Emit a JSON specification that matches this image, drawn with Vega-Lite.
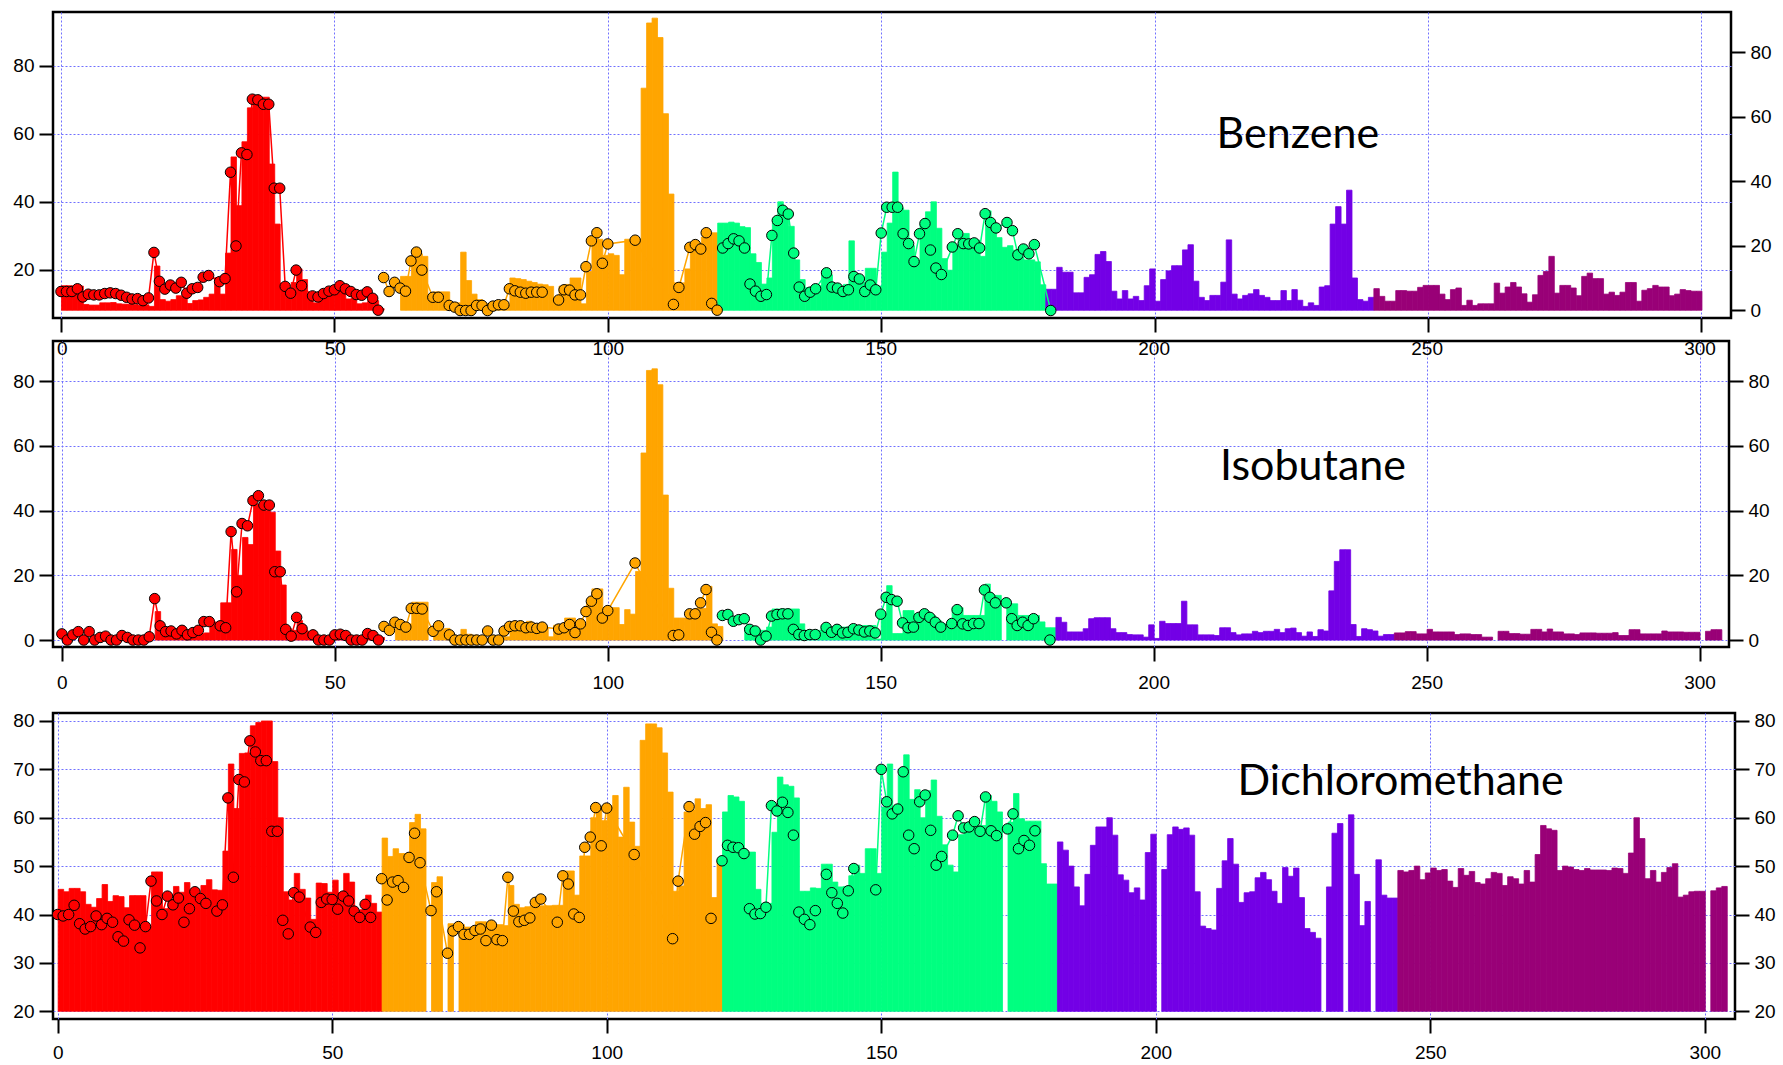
{
"$schema": "https://vega.github.io/schema/vega-lite/v6.json",
"padding": {"top": 10, "left": 11, "right": 0, "bottom": 0},
"background": "white",
"spacing": 2,
"config": {
 "font": "Liberation Sans",
 "view": {"stroke": "black", "strokeWidth": 2.5, "fill": "white"},
 "axis": {"labelFont": "Liberation Sans", "labelFontSize": 19, "labelColor": "black", "tickColor": "black", "tickWidth": 2, "tickSize": 14, "domain": false, "gridColor": "#7070ff", "gridDash": [2, 2], "gridWidth": 1, "gridOpacity": 1, "labelFlush": false, "labelOverlap": false, "labelPadding": 5, "title": null}
},
"datasets": {
"bb": [
{"x":0,"v":7.6,"c":"a"},{"x":1,"v":7.6,"c":"a"},{"x":2,"v":7.4,"c":"a"},{"x":3,"v":7.5,"c":"a"},{"x":4,"v":1.8,"c":"a"},{"x":5,"v":1.6,"c":"a"},{"x":6,"v":1.6,"c":"a"},{"x":7,"v":2.3,"c":"a"},{"x":8,"v":2.3,"c":"a"},{"x":9,"v":2.4,"c":"a"},{"x":10,"v":2,"c":"a"},{"x":11,"v":1.9,"c":"a"},{"x":12,"v":1.9,"c":"a"},{"x":13,"v":1.8,"c":"a"},{"x":14,"v":1.6,"c":"a"},{"x":15,"v":1.7,"c":"a"},{"x":16,"v":1.2,"c":"a"},{"x":17,"v":13.7,"c":"a"},{"x":18,"v":3.3,"c":"a"},{"x":19,"v":2.8,"c":"a"},{"x":20,"v":3.3,"c":"a"},{"x":21,"v":4.5,"c":"a"},{"x":22,"v":4.2,"c":"a"},{"x":23,"v":2.1,"c":"a"},{"x":24,"v":3,"c":"a"},{"x":25,"v":3.2,"c":"a"},{"x":26,"v":4,"c":"a"},{"x":27,"v":5,"c":"a"},{"x":28,"v":10.1,"c":"a"},{"x":29,"v":5,"c":"a"},{"x":30,"v":17.7,"c":"a"},{"x":31,"v":47.5,"c":"a"},{"x":32,"v":32.4,"c":"a"},{"x":33,"v":52.2,"c":"a"},{"x":34,"v":62.7,"c":"a"},{"x":35,"v":66,"c":"a"},{"x":36,"v":66,"c":"a"},{"x":37,"v":66,"c":"a"},{"x":38,"v":45.3,"c":"a"},{"x":39,"v":26.7,"c":"a"},{"x":40,"v":8.4,"c":"a"},{"x":41,"v":5.3,"c":"a"},{"x":42,"v":8.6,"c":"a"},{"x":43,"v":12.8,"c":"a"},{"x":44,"v":9.5,"c":"a"},{"x":45,"v":5.1,"c":"a"},{"x":46,"v":2.3,"c":"a"},{"x":47,"v":4.3,"c":"a"},{"x":48,"v":4.5,"c":"a"},{"x":49,"v":5.2,"c":"a"},{"x":50,"v":6.4,"c":"a"},{"x":51,"v":7.4,"c":"a"},{"x":52,"v":3.5,"c":"a"},{"x":53,"v":3.8,"c":"a"},{"x":54,"v":2,"c":"a"},{"x":55,"v":2.3,"c":"a"},{"x":56,"v":3,"c":"a"},{"x":57,"v":3,"c":"a"},{"x":58,"v":0.5,"c":"a"},
{"x":62,"v":10.5,"c":"b"},{"x":63,"v":10.5,"c":"b"},{"x":64,"v":17,"c":"b"},{"x":65,"v":17.5,"c":"b"},{"x":66,"v":16.7,"c":"b"},{"x":67,"v":3,"c":"b"},{"x":68,"v":5.7,"c":"b"},{"x":69,"v":5.7,"c":"b"},{"x":70,"v":5.7,"c":"b"},{"x":71,"v":2.3,"c":"b"},{"x":72,"v":2.3,"c":"b"},{"x":73,"v":18,"c":"b"},{"x":74,"v":9.2,"c":"b"},{"x":75,"v":5,"c":"b"},{"x":76,"v":3.3,"c":"b"},{"x":77,"v":2,"c":"b"},{"x":78,"v":1,"c":"b"},{"x":79,"v":1.2,"c":"b"},{"x":80,"v":1.4,"c":"b"},{"x":81,"v":1.5,"c":"b"},{"x":82,"v":10,"c":"b"},{"x":83,"v":9.8,"c":"b"},{"x":84,"v":9.5,"c":"b"},{"x":85,"v":9,"c":"b"},{"x":86,"v":8.6,"c":"b"},{"x":87,"v":8.1,"c":"b"},{"x":88,"v":7.9,"c":"b"},{"x":89,"v":7.4,"c":"b"},{"x":90,"v":3.8,"c":"b"},{"x":91,"v":7.5,"c":"b"},{"x":92,"v":8,"c":"b"},{"x":93,"v":10,"c":"b"},{"x":94,"v":10,"c":"b"},{"x":95,"v":2,"c":"b"},{"x":96,"v":12,"c":"b"},{"x":97,"v":21.5,"c":"b"},{"x":98,"v":22,"c":"b"},{"x":99,"v":17,"c":"b"},{"x":100,"v":17.5,"c":"b"},{"x":101,"v":17,"c":"b"},{"x":102,"v":11,"c":"b"},{"x":103,"v":22,"c":"b"},{"x":104,"v":22,"c":"b"},{"x":105,"v":22,"c":"b"},{"x":106,"v":68.8,"c":"b"},{"x":107,"v":89,"c":"b"},{"x":108,"v":90.5,"c":"b"},{"x":109,"v":84.5,"c":"b"},{"x":110,"v":60.9,"c":"b"},{"x":111,"v":36,"c":"b"},{"x":112,"v":8.5,"c":"b"},{"x":113,"v":8.5,"c":"b"},{"x":114,"v":12.8,"c":"b"},{"x":115,"v":19,"c":"b"},{"x":116,"v":19.5,"c":"b"},{"x":117,"v":22.7,"c":"b"},{"x":118,"v":24,"c":"b"},{"x":119,"v":24,"c":"b"},
{"x":120,"v":27,"c":"c"},{"x":121,"v":27,"c":"c"},{"x":122,"v":27.3,"c":"c"},{"x":123,"v":27,"c":"c"},{"x":124,"v":25.9,"c":"c"},{"x":125,"v":25.6,"c":"c"},{"x":126,"v":17.5,"c":"c"},{"x":127,"v":14.8,"c":"c"},{"x":128,"v":8.1,"c":"c"},{"x":129,"v":10,"c":"c"},{"x":130,"v":28.5,"c":"c"},{"x":131,"v":33.6,"c":"c"},{"x":132,"v":29.5,"c":"c"},{"x":133,"v":26,"c":"c"},{"x":134,"v":15.6,"c":"c"},{"x":135,"v":9.5,"c":"c"},{"x":136,"v":7,"c":"c"},{"x":137,"v":7,"c":"c"},{"x":138,"v":7.6,"c":"c"},{"x":139,"v":11,"c":"c"},{"x":140,"v":11,"c":"c"},{"x":141,"v":7.5,"c":"c"},{"x":142,"v":7,"c":"c"},{"x":143,"v":8,"c":"c"},{"x":144,"v":21.5,"c":"c"},{"x":145,"v":11,"c":"c"},{"x":146,"v":8.6,"c":"c"},{"x":147,"v":13,"c":"c"},{"x":148,"v":13,"c":"c"},{"x":149,"v":7.5,"c":"c"},{"x":150,"v":18,"c":"c"},{"x":151,"v":27,"c":"c"},{"x":152,"v":42.8,"c":"c"},{"x":153,"v":31.7,"c":"c"},{"x":154,"v":31,"c":"c"},{"x":155,"v":20,"c":"c"},{"x":156,"v":15.4,"c":"c"},{"x":157,"v":26.6,"c":"c"},{"x":158,"v":30.5,"c":"c"},{"x":159,"v":33.6,"c":"c"},{"x":160,"v":25.4,"c":"c"},{"x":161,"v":16,"c":"c"},{"x":162,"v":12.4,"c":"c"},{"x":163,"v":20,"c":"c"},{"x":164,"v":23.2,"c":"c"},{"x":165,"v":23.8,"c":"c"},{"x":166,"v":21.7,"c":"c"},{"x":167,"v":21.7,"c":"c"},{"x":168,"v":16.7,"c":"c"},{"x":169,"v":30.8,"c":"c"},{"x":170,"v":26.6,"c":"c"},{"x":171,"v":22.5,"c":"c"},{"x":172,"v":19.5,"c":"c"},{"x":173,"v":20,"c":"c"},{"x":174,"v":18.6,"c":"c"},{"x":175,"v":16.5,"c":"c"},{"x":176,"v":15.6,"c":"c"},{"x":177,"v":15.6,"c":"c"},{"x":178,"v":15,"c":"c"},{"x":179,"v":7.9,"c":"c"},
{"x":180,"v":6.5,"c":"d"},{"x":181,"v":6.5,"c":"d"},{"x":182,"v":13.3,"c":"d"},{"x":183,"v":11.8,"c":"d"},{"x":184,"v":11.8,"c":"d"},{"x":185,"v":5.4,"c":"d"},{"x":186,"v":5.4,"c":"d"},{"x":187,"v":10.2,"c":"d"},{"x":188,"v":11,"c":"d"},{"x":189,"v":17.3,"c":"d"},{"x":190,"v":18.2,"c":"d"},{"x":191,"v":15.1,"c":"d"},{"x":192,"v":5.9,"c":"d"},{"x":193,"v":3.5,"c":"d"},{"x":194,"v":6.1,"c":"d"},{"x":195,"v":3.5,"c":"d"},{"x":196,"v":4.3,"c":"d"},{"x":197,"v":3,"c":"d"},{"x":198,"v":7.6,"c":"d"},{"x":199,"v":12.8,"c":"d"},{"x":200,"v":2.8,"c":"d"},{"x":201,"v":9.5,"c":"d"},{"x":202,"v":12.2,"c":"d"},{"x":203,"v":13.8,"c":"d"},{"x":204,"v":13.8,"c":"d"},{"x":205,"v":18.7,"c":"d"},{"x":206,"v":20.3,"c":"d"},{"x":207,"v":9,"c":"d"},{"x":208,"v":4,"c":"d"},{"x":209,"v":3,"c":"d"},{"x":210,"v":4.6,"c":"d"},{"x":211,"v":4.6,"c":"d"},{"x":212,"v":8.7,"c":"d"},{"x":213,"v":21.8,"c":"d"},{"x":214,"v":5,"c":"d"},{"x":215,"v":3.5,"c":"d"},{"x":216,"v":4.6,"c":"d"},{"x":217,"v":5.1,"c":"d"},{"x":218,"v":6.4,"c":"d"},{"x":219,"v":4.6,"c":"d"},{"x":220,"v":4,"c":"d"},{"x":221,"v":3,"c":"d"},{"x":222,"v":3,"c":"d"},{"x":223,"v":6.1,"c":"d"},{"x":224,"v":3,"c":"d"},{"x":225,"v":6.4,"c":"d"},{"x":226,"v":3.1,"c":"d"},{"x":227,"v":1.2,"c":"d"},{"x":228,"v":2.3,"c":"d"},{"x":229,"v":1.5,"c":"d"},{"x":230,"v":7.2,"c":"d"},{"x":231,"v":7.6,"c":"d"},{"x":232,"v":26.7,"c":"d"},{"x":233,"v":32.1,"c":"d"},{"x":234,"v":26.7,"c":"d"},{"x":235,"v":37.2,"c":"d"},{"x":236,"v":10,"c":"d"},{"x":237,"v":3.3,"c":"d"},{"x":238,"v":2.8,"c":"d"},{"x":239,"v":4,"c":"d"},
{"x":240,"v":6.7,"c":"e"},{"x":241,"v":4.3,"c":"e"},{"x":242,"v":2.8,"c":"e"},{"x":243,"v":2.8,"c":"e"},{"x":244,"v":6.1,"c":"e"},{"x":245,"v":6.1,"c":"e"},{"x":246,"v":5.9,"c":"e"},{"x":247,"v":5.9,"c":"e"},{"x":248,"v":7.1,"c":"e"},{"x":249,"v":7.7,"c":"e"},{"x":250,"v":7.7,"c":"e"},{"x":251,"v":7.7,"c":"e"},{"x":252,"v":5,"c":"e"},{"x":253,"v":3.3,"c":"e"},{"x":254,"v":6.4,"c":"e"},{"x":255,"v":6.9,"c":"e"},{"x":256,"v":1.5,"c":"e"},{"x":257,"v":3.1,"c":"e"},{"x":258,"v":1.5,"c":"e"},{"x":259,"v":2,"c":"e"},{"x":260,"v":2,"c":"e"},{"x":261,"v":2,"c":"e"},{"x":262,"v":8.4,"c":"e"},{"x":263,"v":5.3,"c":"e"},{"x":264,"v":7.2,"c":"e"},{"x":265,"v":8.6,"c":"e"},{"x":266,"v":7.2,"c":"e"},{"x":267,"v":5.1,"c":"e"},{"x":268,"v":2.5,"c":"e"},{"x":269,"v":4.8,"c":"e"},{"x":270,"v":10.8,"c":"e"},{"x":271,"v":12,"c":"e"},{"x":272,"v":16.7,"c":"e"},{"x":273,"v":5.3,"c":"e"},{"x":274,"v":7.7,"c":"e"},{"x":275,"v":7.7,"c":"e"},{"x":276,"v":6.9,"c":"e"},{"x":277,"v":4.5,"c":"e"},{"x":278,"v":10.5,"c":"e"},{"x":279,"v":11.5,"c":"e"},{"x":280,"v":9.8,"c":"e"},{"x":281,"v":9.8,"c":"e"},{"x":282,"v":5,"c":"e"},{"x":283,"v":5.6,"c":"e"},{"x":284,"v":4.6,"c":"e"},{"x":285,"v":5.6,"c":"e"},{"x":286,"v":8.6,"c":"e"},{"x":287,"v":8.6,"c":"e"},{"x":288,"v":2.8,"c":"e"},{"x":289,"v":6.2,"c":"e"},{"x":290,"v":6.7,"c":"e"},{"x":291,"v":7.7,"c":"e"},{"x":292,"v":7.2,"c":"e"},{"x":293,"v":7.2,"c":"e"},{"x":294,"v":4.5,"c":"e"},{"x":295,"v":5,"c":"e"},{"x":296,"v":6.4,"c":"e"},{"x":297,"v":6.1,"c":"e"},{"x":298,"v":5.9,"c":"e"},{"x":299,"v":5.9,"c":"e"}
],
"bp": [
{"x":0,"v":13.6,"c":"a"},{"x":1,"v":13.6,"c":"a"},{"x":2,"v":13.6,"c":"a"},{"x":3,"v":14.4,"c":"a"},{"x":4,"v":12,"c":"a"},{"x":5,"v":12.8,"c":"a"},{"x":6,"v":12.6,"c":"a"},{"x":7,"v":12.6,"c":"a"},{"x":8,"v":13,"c":"a"},{"x":9,"v":13.2,"c":"a"},{"x":10,"v":13,"c":"a"},{"x":11,"v":12.5,"c":"a"},{"x":12,"v":11.9,"c":"a"},{"x":13,"v":11.4,"c":"a"},{"x":14,"v":11.5,"c":"a"},{"x":15,"v":10.9,"c":"a"},{"x":16,"v":11.7,"c":"a"},{"x":17,"v":25.1,"c":"a"},{"x":18,"v":16.6,"c":"a"},{"x":19,"v":14.3,"c":"a"},{"x":20,"v":15.5,"c":"a"},{"x":21,"v":14.6,"c":"a"},{"x":22,"v":16.3,"c":"a"},{"x":23,"v":13.1,"c":"a"},{"x":24,"v":14.4,"c":"a"},{"x":25,"v":14.8,"c":"a"},{"x":26,"v":17.8,"c":"a"},{"x":27,"v":18.3,"c":"a"},{"x":29,"v":16.5,"c":"a"},{"x":30,"v":17.4,"c":"a"},{"x":31,"v":48.7,"c":"a"},{"x":32,"v":27,"c":"a"},{"x":33,"v":54.4,"c":"a"},{"x":34,"v":53.9,"c":"a"},{"x":35,"v":70.2,"c":"a"},{"x":36,"v":70,"c":"a"},{"x":37,"v":68.7,"c":"a"},{"x":38,"v":68.7,"c":"a"},{"x":39,"v":44,"c":"a"},{"x":40,"v":44,"c":"a"},{"x":41,"v":15.1,"c":"a"},{"x":42,"v":13.1,"c":"a"},{"x":43,"v":19.9,"c":"a"},{"x":44,"v":15.3,"c":"a"},{"x":46,"v":12.3,"c":"a"},{"x":47,"v":12,"c":"a"},{"x":48,"v":13,"c":"a"},{"x":49,"v":13.7,"c":"a"},{"x":50,"v":14.1,"c":"a"},{"x":51,"v":15.3,"c":"a"},{"x":52,"v":14.4,"c":"a"},{"x":53,"v":13.6,"c":"a"},{"x":54,"v":12.7,"c":"a"},{"x":55,"v":12.5,"c":"a"},{"x":56,"v":13.5,"c":"a"},{"x":57,"v":11.6,"c":"a"},{"x":58,"v":8.1,"c":"a"},
{"x":59,"v":17.7,"c":"b"},{"x":60,"v":13.6,"c":"b"},{"x":61,"v":16.3,"c":"b"},{"x":62,"v":14.6,"c":"b"},{"x":63,"v":13.7,"c":"b"},{"x":64,"v":22.6,"c":"b"},{"x":65,"v":25.2,"c":"b"},{"x":66,"v":19.9,"c":"b"},{"x":68,"v":11.9,"c":"b"},{"x":69,"v":11.9,"c":"b"},{"x":71,"v":9.5,"c":"b"},{"x":72,"v":9,"c":"b"},{"x":73,"v":8,"c":"b"},{"x":74,"v":8,"c":"b"},{"x":75,"v":8,"c":"b"},{"x":76,"v":9.5,"c":"b"},{"x":77,"v":9.5,"c":"b"},{"x":78,"v":8,"c":"b"},{"x":79,"v":9.3,"c":"b"},{"x":80,"v":9.7,"c":"b"},{"x":81,"v":9.7,"c":"b"},{"x":82,"v":14.4,"c":"b"},{"x":83,"v":13.8,"c":"b"},{"x":84,"v":13.4,"c":"b"},{"x":85,"v":13.1,"c":"b"},{"x":86,"v":13.4,"c":"b"},{"x":87,"v":13.4,"c":"b"},{"x":88,"v":13.4,"c":"b"},{"x":91,"v":11.1,"c":"b"},{"x":92,"v":14.1,"c":"b"},{"x":93,"v":14,"c":"b"},{"x":94,"v":12.6,"c":"b"},{"x":95,"v":12.6,"c":"b"},{"x":96,"v":20.9,"c":"b"},{"x":97,"v":28.5,"c":"b"},{"x":98,"v":30.9,"c":"b"},{"x":99,"v":21.9,"c":"b"},{"x":100,"v":27.6,"c":"b"},{"x":105,"v":28.7,"c":"b"},{"x":112,"v":9.8,"c":"b"},{"x":113,"v":14.8,"c":"b"},{"x":115,"v":26.6,"c":"b"},{"x":116,"v":27.4,"c":"b"},{"x":117,"v":26.1,"c":"b"},{"x":118,"v":30.9,"c":"b"},{"x":119,"v":10.1,"c":"b"},{"x":120,"v":8.1,"c":"b"},
{"x":121,"v":26.4,"c":"c"},{"x":122,"v":27.7,"c":"c"},{"x":123,"v":29.1,"c":"c"},{"x":124,"v":28.5,"c":"c"},{"x":125,"v":26.4,"c":"c"},{"x":126,"v":15.8,"c":"c"},{"x":127,"v":13.7,"c":"c"},{"x":128,"v":12.2,"c":"c"},{"x":129,"v":12.7,"c":"c"},{"x":130,"v":30.1,"c":"c"},{"x":131,"v":34.5,"c":"c"},{"x":132,"v":37.5,"c":"c"},{"x":133,"v":36.4,"c":"c"},{"x":134,"v":24.9,"c":"c"},{"x":135,"v":14.9,"c":"c"},{"x":136,"v":12.2,"c":"c"},{"x":137,"v":13.4,"c":"c"},{"x":138,"v":14.4,"c":"c"},{"x":140,"v":19.1,"c":"c"},{"x":141,"v":14.9,"c":"c"},{"x":142,"v":14.6,"c":"c"},{"x":143,"v":13.6,"c":"c"},{"x":144,"v":14.1,"c":"c"},{"x":145,"v":18,"c":"c"},{"x":146,"v":17.3,"c":"c"},{"x":147,"v":13.6,"c":"c"},{"x":148,"v":15.5,"c":"c"},{"x":149,"v":14.1,"c":"c"},{"x":150,"v":30.8,"c":"c"},{"x":151,"v":38.4,"c":"c"},{"x":152,"v":38.4,"c":"c"},{"x":153,"v":38.4,"c":"c"},{"x":154,"v":30.6,"c":"c"},{"x":155,"v":27.7,"c":"c"},{"x":156,"v":22.4,"c":"c"},{"x":157,"v":30.6,"c":"c"},{"x":158,"v":33.6,"c":"c"},{"x":159,"v":25.8,"c":"c"},{"x":160,"v":20.5,"c":"c"},{"x":161,"v":18.6,"c":"c"},{"x":163,"v":26.7,"c":"c"},{"x":164,"v":30.6,"c":"c"},{"x":165,"v":27.7,"c":"c"},{"x":166,"v":27.6,"c":"c"},{"x":167,"v":27.9,"c":"c"},{"x":168,"v":26.4,"c":"c"},{"x":169,"v":36.5,"c":"c"},{"x":170,"v":33.9,"c":"c"},{"x":171,"v":32.3,"c":"c"},{"x":173,"v":33.9,"c":"c"},{"x":174,"v":31.5,"c":"c"},{"x":175,"v":24.4,"c":"c"},{"x":176,"v":26.1,"c":"c"},{"x":177,"v":24.7,"c":"c"},{"x":178,"v":27.4,"c":"c"},{"x":181,"v":8,"c":"c"}
],
"ib": [
{"x":17,"v":8.8,"c":"a"},{"x":18,"v":4,"c":"a"},{"x":19,"v":1.5,"c":"a"},{"x":20,"v":1.5,"c":"a"},{"x":21,"v":1.5,"c":"a"},{"x":22,"v":1.5,"c":"a"},{"x":23,"v":1.5,"c":"a"},{"x":24,"v":1.5,"c":"a"},{"x":25,"v":2,"c":"a"},{"x":26,"v":2.2,"c":"a"},{"x":27,"v":5.7,"c":"a"},{"x":28,"v":5.5,"c":"a"},{"x":29,"v":11.5,"c":"a"},{"x":30,"v":11.5,"c":"a"},{"x":31,"v":28,"c":"a"},{"x":32,"v":20,"c":"a"},{"x":33,"v":31.7,"c":"a"},{"x":34,"v":29.5,"c":"a"},{"x":35,"v":42,"c":"a"},{"x":36,"v":42,"c":"a"},{"x":37,"v":40,"c":"a"},{"x":38,"v":39.5,"c":"a"},{"x":39,"v":27.5,"c":"a"},{"x":40,"v":17,"c":"a"},{"x":41,"v":3.5,"c":"a"},{"x":42,"v":3,"c":"a"},{"x":43,"v":6,"c":"a"},{"x":44,"v":3,"c":"a"},{"x":45,"v":1,"c":"a"},{"x":46,"v":0.3,"c":"a"},{"x":47,"v":0.3,"c":"a"},{"x":48,"v":0.3,"c":"a"},{"x":49,"v":0.3,"c":"a"},{"x":50,"v":0.5,"c":"a"},{"x":51,"v":0.5,"c":"a"},{"x":52,"v":0.5,"c":"a"},{"x":53,"v":0.5,"c":"a"},{"x":54,"v":0.5,"c":"a"},{"x":55,"v":0.5,"c":"a"},{"x":56,"v":0.5,"c":"a"},{"x":57,"v":0.5,"c":"a"},{"x":58,"v":0.8,"c":"a"},
{"x":61,"v":5.5,"c":"b"},{"x":62,"v":5,"c":"b"},{"x":63,"v":5,"c":"b"},{"x":64,"v":11.7,"c":"b"},{"x":65,"v":11.7,"c":"b"},{"x":66,"v":11.7,"c":"b"},{"x":68,"v":4,"c":"b"},{"x":69,"v":3,"c":"b"},{"x":70,"v":3.6,"c":"b"},{"x":71,"v":1.5,"c":"b"},{"x":72,"v":0.5,"c":"b"},{"x":73,"v":3.3,"c":"b"},{"x":74,"v":1.8,"c":"b"},{"x":75,"v":1.5,"c":"b"},{"x":76,"v":0.5,"c":"b"},{"x":77,"v":0.5,"c":"b"},{"x":78,"v":0.5,"c":"b"},{"x":79,"v":1,"c":"b"},{"x":80,"v":1,"c":"b"},{"x":81,"v":1,"c":"b"},{"x":82,"v":3.5,"c":"b"},{"x":83,"v":4,"c":"b"},{"x":84,"v":4.5,"c":"b"},{"x":85,"v":5.8,"c":"b"},{"x":86,"v":4.5,"c":"b"},{"x":87,"v":4,"c":"b"},{"x":88,"v":3.8,"c":"b"},{"x":89,"v":1,"c":"b"},{"x":90,"v":4.6,"c":"b"},{"x":91,"v":4.6,"c":"b"},{"x":92,"v":6.8,"c":"b"},{"x":93,"v":6.8,"c":"b"},{"x":94,"v":4.7,"c":"b"},{"x":95,"v":4.7,"c":"b"},{"x":96,"v":11.5,"c":"b"},{"x":97,"v":15.8,"c":"b"},{"x":98,"v":15.8,"c":"b"},{"x":99,"v":10,"c":"b"},{"x":100,"v":10,"c":"b"},{"x":101,"v":10,"c":"b"},{"x":102,"v":4.8,"c":"b"},{"x":103,"v":9.4,"c":"b"},{"x":104,"v":8,"c":"b"},{"x":105,"v":21.2,"c":"b"},{"x":106,"v":57.8,"c":"b"},{"x":107,"v":83.3,"c":"b"},{"x":108,"v":83.8,"c":"b"},{"x":109,"v":78.9,"c":"b"},{"x":110,"v":44.8,"c":"b"},{"x":111,"v":16,"c":"b"},{"x":112,"v":6.8,"c":"b"},{"x":113,"v":6.8,"c":"b"},{"x":114,"v":6.8,"c":"b"},{"x":115,"v":8.3,"c":"b"},{"x":116,"v":9.8,"c":"b"},{"x":117,"v":9.8,"c":"b"},{"x":118,"v":16.6,"c":"b"},{"x":119,"v":5,"c":"b"},{"x":120,"v":4.2,"c":"b"},
{"x":125,"v":4,"c":"c"},{"x":126,"v":4,"c":"c"},{"x":127,"v":3,"c":"c"},{"x":128,"v":3,"c":"c"},{"x":129,"v":4,"c":"c"},{"x":130,"v":9.6,"c":"c"},{"x":131,"v":9.6,"c":"c"},{"x":132,"v":9.6,"c":"c"},{"x":133,"v":9.6,"c":"c"},{"x":134,"v":9.6,"c":"c"},{"x":135,"v":5,"c":"c"},{"x":136,"v":3,"c":"c"},{"x":137,"v":3,"c":"c"},{"x":138,"v":3,"c":"c"},{"x":139,"v":4.5,"c":"c"},{"x":140,"v":4,"c":"c"},{"x":141,"v":4,"c":"c"},{"x":142,"v":4,"c":"c"},{"x":143,"v":4,"c":"c"},{"x":144,"v":4,"c":"c"},{"x":145,"v":4,"c":"c"},{"x":146,"v":4.5,"c":"c"},{"x":147,"v":4.5,"c":"c"},{"x":148,"v":4.5,"c":"c"},{"x":149,"v":0.3,"c":"c"},{"x":150,"v":8.1,"c":"c"},{"x":151,"v":16.8,"c":"c"},{"x":152,"v":2,"c":"c"},{"x":153,"v":2,"c":"c"},{"x":154,"v":9.1,"c":"c"},{"x":155,"v":9.1,"c":"c"},{"x":156,"v":8.1,"c":"c"},{"x":157,"v":8.6,"c":"c"},{"x":158,"v":8.6,"c":"c"},{"x":159,"v":7.5,"c":"c"},{"x":160,"v":6,"c":"c"},{"x":161,"v":5,"c":"c"},{"x":162,"v":4.5,"c":"c"},{"x":163,"v":10,"c":"c"},{"x":164,"v":10,"c":"c"},{"x":165,"v":7.6,"c":"c"},{"x":166,"v":7.6,"c":"c"},{"x":167,"v":7.6,"c":"c"},{"x":168,"v":7.6,"c":"c"},{"x":169,"v":17.3,"c":"c"},{"x":170,"v":13.8,"c":"c"},{"x":171,"v":13.8,"c":"c"},{"x":173,"v":11.2,"c":"c"},{"x":174,"v":11.2,"c":"c"},{"x":175,"v":7.6,"c":"c"},{"x":176,"v":7.6,"c":"c"},{"x":177,"v":7.6,"c":"c"},{"x":178,"v":7.6,"c":"c"},{"x":179,"v":5.6,"c":"c"},{"x":180,"v":3.8,"c":"c"},{"x":181,"v":3.8,"c":"c"},
{"x":182,"v":7,"c":"d"},{"x":183,"v":5.5,"c":"d"},{"x":184,"v":2.5,"c":"d"},{"x":185,"v":2.5,"c":"d"},{"x":186,"v":2.5,"c":"d"},{"x":187,"v":3.5,"c":"d"},{"x":188,"v":6.6,"c":"d"},{"x":189,"v":6.9,"c":"d"},{"x":190,"v":6.9,"c":"d"},{"x":191,"v":6.9,"c":"d"},{"x":192,"v":3.5,"c":"d"},{"x":193,"v":2.3,"c":"d"},{"x":194,"v":2.3,"c":"d"},{"x":195,"v":1.7,"c":"d"},{"x":196,"v":1.6,"c":"d"},{"x":197,"v":1.6,"c":"d"},{"x":198,"v":0.9,"c":"d"},{"x":199,"v":4.7,"c":"d"},{"x":200,"v":0.5,"c":"d"},{"x":201,"v":5.8,"c":"d"},{"x":202,"v":5.1,"c":"d"},{"x":203,"v":5.1,"c":"d"},{"x":204,"v":5.1,"c":"d"},{"x":205,"v":12,"c":"d"},{"x":206,"v":4.7,"c":"d"},{"x":207,"v":4.7,"c":"d"},{"x":208,"v":1.6,"c":"d"},{"x":209,"v":1.6,"c":"d"},{"x":210,"v":1.6,"c":"d"},{"x":211,"v":1.4,"c":"d"},{"x":212,"v":3.8,"c":"d"},{"x":213,"v":3.8,"c":"d"},{"x":214,"v":2.3,"c":"d"},{"x":215,"v":1.6,"c":"d"},{"x":216,"v":1.9,"c":"d"},{"x":217,"v":1.9,"c":"d"},{"x":218,"v":2.7,"c":"d"},{"x":219,"v":2.3,"c":"d"},{"x":220,"v":2.7,"c":"d"},{"x":221,"v":2.7,"c":"d"},{"x":222,"v":3.3,"c":"d"},{"x":223,"v":2.3,"c":"d"},{"x":224,"v":3.5,"c":"d"},{"x":225,"v":3.7,"c":"d"},{"x":226,"v":2.3,"c":"d"},{"x":227,"v":1.2,"c":"d"},{"x":228,"v":2.5,"c":"d"},{"x":229,"v":1.1,"c":"d"},{"x":230,"v":3.2,"c":"d"},{"x":231,"v":2.8,"c":"d"},{"x":232,"v":15.2,"c":"d"},{"x":233,"v":24.3,"c":"d"},{"x":234,"v":27.9,"c":"d"},{"x":235,"v":27.9,"c":"d"},{"x":236,"v":4.8,"c":"d"},{"x":237,"v":1.1,"c":"d"},{"x":238,"v":3.5,"c":"d"},{"x":239,"v":3.2,"c":"d"},{"x":240,"v":2.8,"c":"d"},{"x":241,"v":1.2,"c":"d"},{"x":242,"v":1.7,"c":"d"},{"x":243,"v":1.7,"c":"d"},
{"x":244,"v":2.2,"c":"e"},{"x":245,"v":2.2,"c":"e"},{"x":246,"v":2.6,"c":"e"},{"x":247,"v":2.6,"c":"e"},{"x":248,"v":1.9,"c":"e"},{"x":249,"v":1.9,"c":"e"},{"x":250,"v":3.3,"c":"e"},{"x":251,"v":2.5,"c":"e"},{"x":252,"v":2.5,"c":"e"},{"x":253,"v":2.5,"c":"e"},{"x":254,"v":2.5,"c":"e"},{"x":255,"v":1.7,"c":"e"},{"x":256,"v":1.9,"c":"e"},{"x":257,"v":1.9,"c":"e"},{"x":258,"v":1.7,"c":"e"},{"x":259,"v":1.7,"c":"e"},{"x":260,"v":0.9,"c":"e"},{"x":261,"v":0.9,"c":"e"},{"x":263,"v":2.7,"c":"e"},{"x":264,"v":2.7,"c":"e"},{"x":265,"v":2,"c":"e"},{"x":266,"v":2,"c":"e"},{"x":267,"v":1.8,"c":"e"},{"x":268,"v":1.8,"c":"e"},{"x":269,"v":3.3,"c":"e"},{"x":270,"v":3.3,"c":"e"},{"x":271,"v":2.5,"c":"e"},{"x":272,"v":3.4,"c":"e"},{"x":273,"v":2.5,"c":"e"},{"x":274,"v":2.5,"c":"e"},{"x":275,"v":1.9,"c":"e"},{"x":276,"v":1.9,"c":"e"},{"x":277,"v":1.7,"c":"e"},{"x":278,"v":2.2,"c":"e"},{"x":279,"v":2.2,"c":"e"},{"x":280,"v":2.2,"c":"e"},{"x":281,"v":2.1,"c":"e"},{"x":282,"v":2.1,"c":"e"},{"x":283,"v":2.1,"c":"e"},{"x":284,"v":2.3,"c":"e"},{"x":285,"v":1.4,"c":"e"},{"x":286,"v":1.4,"c":"e"},{"x":287,"v":3.2,"c":"e"},{"x":288,"v":3.2,"c":"e"},{"x":289,"v":1.9,"c":"e"},{"x":290,"v":1.9,"c":"e"},{"x":291,"v":1.9,"c":"e"},{"x":292,"v":1.9,"c":"e"},{"x":293,"v":2.8,"c":"e"},{"x":294,"v":2.5,"c":"e"},{"x":295,"v":2.5,"c":"e"},{"x":296,"v":2.5,"c":"e"},{"x":297,"v":2.4,"c":"e"},{"x":298,"v":2.4,"c":"e"},{"x":299,"v":2.4,"c":"e"},{"x":301,"v":2.7,"c":"e"},{"x":302,"v":3.2,"c":"e"},{"x":303,"v":3.2,"c":"e"}
],
"ip": [
{"x":0,"v":1.9,"c":"a"},{"x":1,"v":0,"c":"a"},{"x":2,"v":1.6,"c":"a"},{"x":3,"v":2.6,"c":"a"},{"x":4,"v":0,"c":"a"},{"x":5,"v":2.6,"c":"a"},{"x":6,"v":0,"c":"a"},{"x":7,"v":0.8,"c":"a"},{"x":8,"v":1.2,"c":"a"},{"x":9,"v":0,"c":"a"},{"x":10,"v":0,"c":"a"},{"x":11,"v":1.4,"c":"a"},{"x":12,"v":0.8,"c":"a"},{"x":13,"v":0,"c":"a"},{"x":14,"v":0,"c":"a"},{"x":15,"v":0,"c":"a"},{"x":16,"v":1,"c":"a"},{"x":17,"v":12.8,"c":"a"},{"x":18,"v":4.4,"c":"a"},{"x":19,"v":2.6,"c":"a"},{"x":20,"v":2.8,"c":"a"},{"x":21,"v":1.9,"c":"a"},{"x":22,"v":3,"c":"a"},{"x":23,"v":1.6,"c":"a"},{"x":24,"v":2.3,"c":"a"},{"x":25,"v":3,"c":"a"},{"x":26,"v":5.7,"c":"a"},{"x":27,"v":5.7,"c":"a"},{"x":29,"v":4.4,"c":"a"},{"x":30,"v":3.8,"c":"a"},{"x":31,"v":33.5,"c":"a"},{"x":32,"v":14.9,"c":"a"},{"x":33,"v":36,"c":"a"},{"x":34,"v":35.3,"c":"a"},{"x":35,"v":43.1,"c":"a"},{"x":36,"v":44.6,"c":"a"},{"x":37,"v":41.7,"c":"a"},{"x":38,"v":41.7,"c":"a"},{"x":39,"v":21.1,"c":"a"},{"x":40,"v":21.1,"c":"a"},{"x":41,"v":3.3,"c":"a"},{"x":42,"v":1.2,"c":"a"},{"x":43,"v":7,"c":"a"},{"x":44,"v":3.5,"c":"a"},{"x":46,"v":1.6,"c":"a"},{"x":47,"v":0,"c":"a"},{"x":48,"v":0,"c":"a"},{"x":49,"v":0,"c":"a"},{"x":50,"v":1.6,"c":"a"},{"x":51,"v":1.8,"c":"a"},{"x":52,"v":1.4,"c":"a"},{"x":53,"v":0,"c":"a"},{"x":54,"v":0,"c":"a"},{"x":55,"v":0,"c":"a"},{"x":56,"v":2,"c":"a"},{"x":57,"v":1.4,"c":"a"},{"x":58,"v":0,"c":"a"},
{"x":59,"v":4.2,"c":"b"},{"x":60,"v":3,"c":"b"},{"x":61,"v":5.5,"c":"b"},{"x":62,"v":4.8,"c":"b"},{"x":63,"v":4,"c":"b"},{"x":64,"v":9.8,"c":"b"},{"x":65,"v":9.8,"c":"b"},{"x":66,"v":9.6,"c":"b"},{"x":68,"v":2.7,"c":"b"},{"x":69,"v":4.4,"c":"b"},{"x":71,"v":1.6,"c":"b"},{"x":72,"v":0,"c":"b"},{"x":73,"v":0,"c":"b"},{"x":74,"v":0,"c":"b"},{"x":75,"v":0,"c":"b"},{"x":76,"v":0,"c":"b"},{"x":77,"v":0,"c":"b"},{"x":78,"v":2.8,"c":"b"},{"x":79,"v":0,"c":"b"},{"x":80,"v":0,"c":"b"},{"x":81,"v":2.8,"c":"b"},{"x":82,"v":4.2,"c":"b"},{"x":83,"v":4.4,"c":"b"},{"x":84,"v":4.4,"c":"b"},{"x":85,"v":3.8,"c":"b"},{"x":86,"v":4,"c":"b"},{"x":87,"v":3.6,"c":"b"},{"x":88,"v":4,"c":"b"},{"x":91,"v":3.4,"c":"b"},{"x":92,"v":3.8,"c":"b"},{"x":93,"v":4.8,"c":"b"},{"x":94,"v":2.3,"c":"b"},{"x":95,"v":5,"c":"b"},{"x":96,"v":8.8,"c":"b"},{"x":97,"v":12,"c":"b"},{"x":98,"v":14.3,"c":"b"},{"x":99,"v":6.8,"c":"b"},{"x":100,"v":9.1,"c":"b"},{"x":105,"v":23.8,"c":"b"},{"x":112,"v":1.4,"c":"b"},{"x":113,"v":1.6,"c":"b"},{"x":115,"v":8.1,"c":"b"},{"x":116,"v":8.1,"c":"b"},{"x":117,"v":11.5,"c":"b"},{"x":118,"v":15.6,"c":"b"},{"x":119,"v":2.4,"c":"b"},{"x":120,"v":0,"c":"b"},
{"x":121,"v":7.6,"c":"c"},{"x":122,"v":7.9,"c":"c"},{"x":123,"v":5.8,"c":"c"},{"x":124,"v":6.3,"c":"c"},{"x":125,"v":6.6,"c":"c"},{"x":126,"v":3.3,"c":"c"},{"x":127,"v":2.8,"c":"c"},{"x":128,"v":0,"c":"c"},{"x":129,"v":1.2,"c":"c"},{"x":130,"v":7.4,"c":"c"},{"x":131,"v":7.9,"c":"c"},{"x":132,"v":8.1,"c":"c"},{"x":133,"v":8.1,"c":"c"},{"x":134,"v":3.3,"c":"c"},{"x":135,"v":1.7,"c":"c"},{"x":136,"v":1.4,"c":"c"},{"x":137,"v":1.7,"c":"c"},{"x":138,"v":1.7,"c":"c"},{"x":140,"v":3.9,"c":"c"},{"x":141,"v":2.4,"c":"c"},{"x":142,"v":3.3,"c":"c"},{"x":143,"v":2.2,"c":"c"},{"x":144,"v":2.4,"c":"c"},{"x":145,"v":3.5,"c":"c"},{"x":146,"v":3.1,"c":"c"},{"x":147,"v":2.5,"c":"c"},{"x":148,"v":2.8,"c":"c"},{"x":149,"v":2.2,"c":"c"},{"x":150,"v":8,"c":"c"},{"x":151,"v":13.2,"c":"c"},{"x":152,"v":12.5,"c":"c"},{"x":153,"v":12,"c":"c"},{"x":154,"v":5.3,"c":"c"},{"x":155,"v":3.8,"c":"c"},{"x":156,"v":4,"c":"c"},{"x":157,"v":7,"c":"c"},{"x":158,"v":8.1,"c":"c"},{"x":159,"v":7,"c":"c"},{"x":160,"v":5.5,"c":"c"},{"x":161,"v":4,"c":"c"},{"x":163,"v":5.1,"c":"c"},{"x":164,"v":9.4,"c":"c"},{"x":165,"v":5,"c":"c"},{"x":166,"v":4.5,"c":"c"},{"x":167,"v":5.1,"c":"c"},{"x":168,"v":5.1,"c":"c"},{"x":169,"v":15.5,"c":"c"},{"x":170,"v":13.2,"c":"c"},{"x":171,"v":11.5,"c":"c"},{"x":173,"v":11.5,"c":"c"},{"x":174,"v":6.6,"c":"c"},{"x":175,"v":4.5,"c":"c"},{"x":176,"v":5.5,"c":"c"},{"x":177,"v":4.5,"c":"c"},{"x":178,"v":6.6,"c":"c"},{"x":181,"v":0,"c":"c"}
],
"db": [
{"x":0,"v":45.2,"c":"a"},{"x":1,"v":44.7,"c":"a"},{"x":2,"v":45.4,"c":"a"},{"x":3,"v":45.4,"c":"a"},{"x":4,"v":44.7,"c":"a"},{"x":5,"v":42.1,"c":"a"},{"x":6,"v":41.5,"c":"a"},{"x":7,"v":43.3,"c":"a"},{"x":8,"v":46.2,"c":"a"},{"x":9,"v":42.7,"c":"a"},{"x":10,"v":43.9,"c":"a"},{"x":11,"v":43.7,"c":"a"},{"x":12,"v":41.4,"c":"a"},{"x":13,"v":43.9,"c":"a"},{"x":14,"v":43.9,"c":"a"},{"x":15,"v":43.9,"c":"a"},{"x":16,"v":37.5,"c":"a"},{"x":17,"v":48.8,"c":"a"},{"x":18,"v":48.8,"c":"a"},{"x":19,"v":41.2,"c":"a"},{"x":20,"v":43.1,"c":"a"},{"x":21,"v":45.8,"c":"a"},{"x":22,"v":44.6,"c":"a"},{"x":23,"v":46.6,"c":"a"},{"x":24,"v":44.4,"c":"a"},{"x":25,"v":44.4,"c":"a"},{"x":26,"v":46,"c":"a"},{"x":27,"v":47.2,"c":"a"},{"x":28,"v":45.1,"c":"a"},{"x":29,"v":45,"c":"a"},{"x":30,"v":53.1,"c":"a"},{"x":31,"v":71.1,"c":"a"},{"x":32,"v":61.9,"c":"a"},{"x":33,"v":73.3,"c":"a"},{"x":34,"v":73.4,"c":"a"},{"x":35,"v":79,"c":"a"},{"x":36,"v":79.7,"c":"a"},{"x":37,"v":80,"c":"a"},{"x":38,"v":80,"c":"a"},{"x":39,"v":71.6,"c":"a"},{"x":40,"v":60,"c":"a"},{"x":41,"v":44.7,"c":"a"},{"x":42,"v":43,"c":"a"},{"x":43,"v":48.5,"c":"a"},{"x":44,"v":45.2,"c":"a"},{"x":45,"v":43.4,"c":"a"},{"x":46,"v":39,"c":"a"},{"x":47,"v":46.5,"c":"a"},{"x":48,"v":46.4,"c":"a"},{"x":49,"v":44.6,"c":"a"},{"x":50,"v":47.1,"c":"a"},{"x":51,"v":44.5,"c":"a"},{"x":52,"v":48.5,"c":"a"},{"x":53,"v":46.7,"c":"a"},{"x":54,"v":40.8,"c":"a"},{"x":55,"v":41,"c":"a"},{"x":56,"v":44,"c":"a"},{"x":57,"v":42.3,"c":"a"},{"x":58,"v":40.5,"c":"a"},
{"x":59,"v":55.8,"c":"b"},{"x":60,"v":52,"c":"b"},{"x":61,"v":53.6,"c":"b"},{"x":62,"v":52.6,"c":"b"},{"x":63,"v":52.6,"c":"b"},{"x":64,"v":59,"c":"b"},{"x":65,"v":60.7,"c":"b"},{"x":66,"v":57.7,"c":"b"},{"x":68,"v":46.6,"c":"b"},{"x":69,"v":47.8,"c":"b"},{"x":71,"v":38.1,"c":"b"},{"x":73,"v":37.9,"c":"b"},{"x":74,"v":37.4,"c":"b"},{"x":75,"v":37.4,"c":"b"},{"x":76,"v":38.5,"c":"b"},{"x":77,"v":38.5,"c":"b"},{"x":78,"v":37.9,"c":"b"},{"x":79,"v":37.9,"c":"b"},{"x":80,"v":37.9,"c":"b"},{"x":81,"v":37.7,"c":"b"},{"x":82,"v":46,"c":"b"},{"x":83,"v":42.1,"c":"b"},{"x":84,"v":41.4,"c":"b"},{"x":85,"v":41.6,"c":"b"},{"x":86,"v":41.8,"c":"b"},{"x":87,"v":41.8,"c":"b"},{"x":88,"v":41.8,"c":"b"},{"x":89,"v":41.8,"c":"b"},{"x":90,"v":41.9,"c":"b"},{"x":91,"v":41.9,"c":"b"},{"x":92,"v":49,"c":"b"},{"x":93,"v":49,"c":"b"},{"x":94,"v":44,"c":"b"},{"x":95,"v":52.1,"c":"b"},{"x":96,"v":52.1,"c":"b"},{"x":97,"v":60,"c":"b"},{"x":98,"v":62.2,"c":"b"},{"x":99,"v":59.4,"c":"b"},{"x":100,"v":62.2,"c":"b"},{"x":101,"v":64.6,"c":"b"},{"x":102,"v":56,"c":"b"},{"x":103,"v":66.3,"c":"b"},{"x":104,"v":59.1,"c":"b"},{"x":105,"v":54.1,"c":"b"},{"x":106,"v":76,"c":"b"},{"x":107,"v":79.4,"c":"b"},{"x":108,"v":79.4,"c":"b"},{"x":109,"v":78.6,"c":"b"},{"x":110,"v":73.4,"c":"b"},{"x":111,"v":65.3,"c":"b"},{"x":112,"v":44.8,"c":"b"},{"x":113,"v":45.9,"c":"b"},{"x":114,"v":61.2,"c":"b"},{"x":115,"v":61.6,"c":"b"},{"x":116,"v":63.9,"c":"b"},{"x":117,"v":61.9,"c":"b"},{"x":118,"v":62.7,"c":"b"},{"x":119,"v":43.5,"c":"b"},{"x":120,"v":51.2,"c":"b"},
{"x":121,"v":61.2,"c":"c"},{"x":122,"v":64.6,"c":"c"},{"x":123,"v":64.3,"c":"c"},{"x":124,"v":63.4,"c":"c"},{"x":125,"v":52.9,"c":"c"},{"x":126,"v":52.9,"c":"c"},{"x":127,"v":45.2,"c":"c"},{"x":128,"v":42.3,"c":"c"},{"x":129,"v":42.3,"c":"c"},{"x":130,"v":57,"c":"c"},{"x":131,"v":68.4,"c":"c"},{"x":132,"v":66.8,"c":"c"},{"x":133,"v":66.5,"c":"c"},{"x":134,"v":64.1,"c":"c"},{"x":135,"v":44.8,"c":"c"},{"x":136,"v":44.8,"c":"c"},{"x":137,"v":45.5,"c":"c"},{"x":138,"v":45.4,"c":"c"},{"x":139,"v":50.4,"c":"c"},{"x":140,"v":50.4,"c":"c"},{"x":141,"v":46.7,"c":"c"},{"x":142,"v":45.7,"c":"c"},{"x":143,"v":45.8,"c":"c"},{"x":144,"v":48,"c":"c"},{"x":145,"v":50.2,"c":"c"},{"x":146,"v":48.5,"c":"c"},{"x":147,"v":53.6,"c":"c"},{"x":148,"v":53.6,"c":"c"},{"x":149,"v":48.5,"c":"c"},{"x":150,"v":62.2,"c":"c"},{"x":151,"v":71.1,"c":"c"},{"x":152,"v":61.5,"c":"c"},{"x":153,"v":68.9,"c":"c"},{"x":154,"v":73,"c":"c"},{"x":155,"v":63.8,"c":"c"},{"x":156,"v":65.8,"c":"c"},{"x":157,"v":60,"c":"c"},{"x":158,"v":65.6,"c":"c"},{"x":159,"v":67.8,"c":"c"},{"x":160,"v":60.3,"c":"c"},{"x":161,"v":54.4,"c":"c"},{"x":162,"v":50.2,"c":"c"},{"x":163,"v":48.8,"c":"c"},{"x":164,"v":56.5,"c":"c"},{"x":165,"v":58.4,"c":"c"},{"x":166,"v":58.4,"c":"c"},{"x":167,"v":58.4,"c":"c"},{"x":168,"v":58.4,"c":"c"},{"x":169,"v":64.6,"c":"c"},{"x":170,"v":63.4,"c":"c"},{"x":171,"v":61.2,"c":"c"},{"x":173,"v":59.1,"c":"c"},{"x":174,"v":65,"c":"c"},{"x":175,"v":59.8,"c":"c"},{"x":176,"v":59.3,"c":"c"},{"x":177,"v":59.3,"c":"c"},{"x":178,"v":59.3,"c":"c"},{"x":179,"v":50.5,"c":"c"},{"x":180,"v":46.3,"c":"c"},{"x":181,"v":46.3,"c":"c"},
{"x":182,"v":55,"c":"d"},{"x":183,"v":53.3,"c":"d"},{"x":184,"v":50,"c":"d"},{"x":185,"v":45.7,"c":"d"},{"x":186,"v":41.8,"c":"d"},{"x":187,"v":48.3,"c":"d"},{"x":188,"v":54.3,"c":"d"},{"x":189,"v":58.1,"c":"d"},{"x":190,"v":58.1,"c":"d"},{"x":191,"v":60,"c":"d"},{"x":192,"v":56.4,"c":"d"},{"x":193,"v":48.2,"c":"d"},{"x":194,"v":47.1,"c":"d"},{"x":195,"v":44.5,"c":"d"},{"x":196,"v":45.5,"c":"d"},{"x":197,"v":43,"c":"d"},{"x":198,"v":52.8,"c":"d"},{"x":199,"v":56.6,"c":"d"},{"x":201,"v":49.3,"c":"d"},{"x":202,"v":56.5,"c":"d"},{"x":203,"v":58.1,"c":"d"},{"x":204,"v":57.6,"c":"d"},{"x":205,"v":57.9,"c":"d"},{"x":206,"v":56.4,"c":"d"},{"x":207,"v":44.7,"c":"d"},{"x":208,"v":37.6,"c":"d"},{"x":209,"v":37.1,"c":"d"},{"x":210,"v":36.8,"c":"d"},{"x":211,"v":45.4,"c":"d"},{"x":212,"v":51.1,"c":"d"},{"x":213,"v":55.7,"c":"d"},{"x":214,"v":50.4,"c":"d"},{"x":215,"v":42.5,"c":"d"},{"x":216,"v":44.5,"c":"d"},{"x":217,"v":44.7,"c":"d"},{"x":218,"v":47.6,"c":"d"},{"x":219,"v":48.7,"c":"d"},{"x":220,"v":47.2,"c":"d"},{"x":221,"v":44.8,"c":"d"},{"x":222,"v":42.3,"c":"d"},{"x":223,"v":49.7,"c":"d"},{"x":224,"v":47.9,"c":"d"},{"x":225,"v":49.6,"c":"d"},{"x":226,"v":43.5,"c":"d"},{"x":227,"v":37.1,"c":"d"},{"x":228,"v":36.3,"c":"d"},{"x":229,"v":35.1,"c":"d"},{"x":231,"v":45.7,"c":"d"},{"x":232,"v":56.8,"c":"d"},{"x":233,"v":58.8,"c":"d"},{"x":235,"v":60.6,"c":"d"},{"x":236,"v":48.3,"c":"d"},{"x":237,"v":37.7,"c":"d"},{"x":238,"v":42.7,"c":"d"},{"x":240,"v":51.3,"c":"d"},{"x":241,"v":44,"c":"d"},{"x":242,"v":43.4,"c":"d"},{"x":243,"v":43.4,"c":"d"},
{"x":244,"v":49.1,"c":"e"},{"x":245,"v":48.8,"c":"e"},{"x":246,"v":49.1,"c":"e"},{"x":247,"v":50,"c":"e"},{"x":248,"v":47.2,"c":"e"},{"x":249,"v":48.6,"c":"e"},{"x":250,"v":49.6,"c":"e"},{"x":251,"v":49.1,"c":"e"},{"x":252,"v":49.3,"c":"e"},{"x":253,"v":46.9,"c":"e"},{"x":254,"v":45.6,"c":"e"},{"x":255,"v":49.5,"c":"e"},{"x":256,"v":48.1,"c":"e"},{"x":257,"v":48.9,"c":"e"},{"x":258,"v":46.6,"c":"e"},{"x":259,"v":46.3,"c":"e"},{"x":260,"v":47.4,"c":"e"},{"x":261,"v":48.7,"c":"e"},{"x":262,"v":48.5,"c":"e"},{"x":263,"v":46,"c":"e"},{"x":264,"v":47.8,"c":"e"},{"x":265,"v":47.4,"c":"e"},{"x":266,"v":46.3,"c":"e"},{"x":267,"v":49.1,"c":"e"},{"x":268,"v":46.7,"c":"e"},{"x":269,"v":52.4,"c":"e"},{"x":270,"v":58.4,"c":"e"},{"x":271,"v":57.7,"c":"e"},{"x":272,"v":57.4,"c":"e"},{"x":273,"v":49.1,"c":"e"},{"x":274,"v":50,"c":"e"},{"x":275,"v":49.8,"c":"e"},{"x":276,"v":49.3,"c":"e"},{"x":277,"v":49.1,"c":"e"},{"x":278,"v":49.5,"c":"e"},{"x":279,"v":49.2,"c":"e"},{"x":280,"v":49.2,"c":"e"},{"x":281,"v":49.2,"c":"e"},{"x":282,"v":49.1,"c":"e"},{"x":283,"v":49.6,"c":"e"},{"x":284,"v":49.5,"c":"e"},{"x":285,"v":48.5,"c":"e"},{"x":286,"v":52.7,"c":"e"},{"x":287,"v":60,"c":"e"},{"x":288,"v":55.7,"c":"e"},{"x":289,"v":47.4,"c":"e"},{"x":290,"v":49.1,"c":"e"},{"x":291,"v":46.7,"c":"e"},{"x":292,"v":48.7,"c":"e"},{"x":293,"v":49.7,"c":"e"},{"x":294,"v":50.5,"c":"e"},{"x":295,"v":43.6,"c":"e"},{"x":296,"v":44,"c":"e"},{"x":297,"v":44.7,"c":"e"},{"x":298,"v":44.8,"c":"e"},{"x":299,"v":44.8,"c":"e"},{"x":301,"v":44.9,"c":"e"},{"x":302,"v":45.5,"c":"e"},{"x":303,"v":45.8,"c":"e"}
],
"dp": [
{"x":0,"v":40,"c":"a"},{"x":1,"v":39.7,"c":"a"},{"x":2,"v":40,"c":"a"},{"x":3,"v":41.9,"c":"a"},{"x":4,"v":38.1,"c":"a"},{"x":5,"v":37,"c":"a"},{"x":6,"v":37.5,"c":"a"},{"x":7,"v":39.7,"c":"a"},{"x":8,"v":37.9,"c":"a"},{"x":9,"v":39.2,"c":"a"},{"x":10,"v":38.4,"c":"a"},{"x":11,"v":35.4,"c":"a"},{"x":12,"v":34.5,"c":"a"},{"x":13,"v":38.9,"c":"a"},{"x":14,"v":37.8,"c":"a"},{"x":15,"v":33.1,"c":"a"},{"x":16,"v":37.5,"c":"a"},{"x":17,"v":46.9,"c":"a"},{"x":18,"v":42.8,"c":"a"},{"x":19,"v":40,"c":"a"},{"x":20,"v":43.8,"c":"a"},{"x":21,"v":42,"c":"a"},{"x":22,"v":43.4,"c":"a"},{"x":23,"v":38.4,"c":"a"},{"x":24,"v":41.2,"c":"a"},{"x":25,"v":44.7,"c":"a"},{"x":26,"v":43.3,"c":"a"},{"x":27,"v":42.3,"c":"a"},{"x":29,"v":40.7,"c":"a"},{"x":30,"v":42,"c":"a"},{"x":31,"v":64.1,"c":"a"},{"x":32,"v":47.7,"c":"a"},{"x":33,"v":67.9,"c":"a"},{"x":34,"v":67.4,"c":"a"},{"x":35,"v":75.9,"c":"a"},{"x":36,"v":73.6,"c":"a"},{"x":37,"v":71.8,"c":"a"},{"x":38,"v":71.8,"c":"a"},{"x":39,"v":57.2,"c":"a"},{"x":40,"v":57.2,"c":"a"},{"x":41,"v":38.8,"c":"a"},{"x":42,"v":36,"c":"a"},{"x":43,"v":44.5,"c":"a"},{"x":44,"v":43.6,"c":"a"},{"x":46,"v":37.4,"c":"a"},{"x":47,"v":36.3,"c":"a"},{"x":48,"v":42.5,"c":"a"},{"x":49,"v":43.2,"c":"a"},{"x":50,"v":43.1,"c":"a"},{"x":51,"v":41.1,"c":"a"},{"x":52,"v":43.8,"c":"a"},{"x":53,"v":42.8,"c":"a"},{"x":54,"v":40.7,"c":"a"},{"x":55,"v":39.4,"c":"a"},{"x":56,"v":42.1,"c":"a"},{"x":57,"v":39.4,"c":"a"},
{"x":59,"v":47.4,"c":"b"},{"x":60,"v":43,"c":"b"},{"x":61,"v":46.7,"c":"b"},{"x":62,"v":47,"c":"b"},{"x":63,"v":45.6,"c":"b"},{"x":64,"v":51.8,"c":"b"},{"x":65,"v":56.8,"c":"b"},{"x":66,"v":50.7,"c":"b"},{"x":68,"v":40.8,"c":"b"},{"x":69,"v":44.7,"c":"b"},{"x":71,"v":32,"c":"b"},{"x":72,"v":36.6,"c":"b"},{"x":73,"v":37.5,"c":"b"},{"x":74,"v":35.9,"c":"b"},{"x":75,"v":35.9,"c":"b"},{"x":76,"v":36.7,"c":"b"},{"x":77,"v":37,"c":"b"},{"x":78,"v":34.6,"c":"b"},{"x":79,"v":37.8,"c":"b"},{"x":80,"v":34.8,"c":"b"},{"x":81,"v":34.6,"c":"b"},{"x":82,"v":47.7,"c":"b"},{"x":83,"v":40.7,"c":"b"},{"x":84,"v":38.5,"c":"b"},{"x":85,"v":38.8,"c":"b"},{"x":86,"v":39.3,"c":"b"},{"x":87,"v":42.5,"c":"b"},{"x":88,"v":43.2,"c":"b"},{"x":91,"v":38.4,"c":"b"},{"x":92,"v":48,"c":"b"},{"x":93,"v":46.3,"c":"b"},{"x":94,"v":40.1,"c":"b"},{"x":95,"v":39.4,"c":"b"},{"x":96,"v":53.9,"c":"b"},{"x":97,"v":56,"c":"b"},{"x":98,"v":62.1,"c":"b"},{"x":99,"v":54.2,"c":"b"},{"x":100,"v":62,"c":"b"},{"x":105,"v":52.4,"c":"b"},{"x":112,"v":35,"c":"b"},{"x":113,"v":46.9,"c":"b"},{"x":115,"v":62.3,"c":"b"},{"x":116,"v":56.6,"c":"b"},{"x":117,"v":58.2,"c":"b"},{"x":118,"v":59,"c":"b"},{"x":119,"v":39.2,"c":"b"},
{"x":121,"v":51.1,"c":"c"},{"x":122,"v":54.3,"c":"c"},{"x":123,"v":53.9,"c":"c"},{"x":124,"v":53.8,"c":"c"},{"x":125,"v":52.6,"c":"c"},{"x":126,"v":41.2,"c":"c"},{"x":127,"v":40.1,"c":"c"},{"x":128,"v":40.2,"c":"c"},{"x":129,"v":41.5,"c":"c"},{"x":130,"v":62.5,"c":"c"},{"x":131,"v":61.4,"c":"c"},{"x":132,"v":63.2,"c":"c"},{"x":133,"v":61.1,"c":"c"},{"x":134,"v":56.4,"c":"c"},{"x":135,"v":40.5,"c":"c"},{"x":136,"v":39,"c":"c"},{"x":137,"v":37.9,"c":"c"},{"x":138,"v":40.8,"c":"c"},{"x":140,"v":48.3,"c":"c"},{"x":141,"v":44.5,"c":"c"},{"x":142,"v":42.3,"c":"c"},{"x":143,"v":40.3,"c":"c"},{"x":144,"v":44.9,"c":"c"},{"x":145,"v":49.5,"c":"c"},{"x":149,"v":45.1,"c":"c"},{"x":150,"v":70,"c":"c"},{"x":151,"v":63.3,"c":"c"},{"x":152,"v":60.8,"c":"c"},{"x":153,"v":61.8,"c":"c"},{"x":154,"v":69.5,"c":"c"},{"x":155,"v":56.4,"c":"c"},{"x":156,"v":53.6,"c":"c"},{"x":157,"v":63.3,"c":"c"},{"x":158,"v":64.7,"c":"c"},{"x":159,"v":57.4,"c":"c"},{"x":160,"v":50.2,"c":"c"},{"x":161,"v":52,"c":"c"},{"x":163,"v":56.4,"c":"c"},{"x":164,"v":60.4,"c":"c"},{"x":165,"v":57.9,"c":"c"},{"x":166,"v":58.1,"c":"c"},{"x":167,"v":59.2,"c":"c"},{"x":168,"v":57.2,"c":"c"},{"x":169,"v":64.3,"c":"c"},{"x":170,"v":57.3,"c":"c"},{"x":171,"v":56.3,"c":"c"},{"x":173,"v":57.7,"c":"c"},{"x":174,"v":60.8,"c":"c"},{"x":175,"v":53.6,"c":"c"},{"x":176,"v":55.3,"c":"c"},{"x":177,"v":54.3,"c":"c"},{"x":178,"v":57.3,"c":"c"}
]
},
"vconcat": [
{
 "width": 1678, "height": 306,
 "layer": [
  {"data": {"name": "bb"}, "mark": {"type": "bar", "binSpacing": 0, "strokeWidth": 0.8},
   "encoding": {
    "x": {"field": "x", "type": "quantitative", "bin": {"step": 1, "extent": [0, 306]}, "scale": {"domain": [-1.46, 305.4], "nice": false, "zero": false}, "axis": {"orient": "bottom", "values": [0,50,100,150,200,250,300], "labels": false, "grid": true}},
    "y": {"field": "v", "type": "quantitative", "scale": {"domain": [-2.4, 92.4], "nice": false, "zero": false}, "axis": {"orient": "right", "values": [0,20,40,60,80], "grid": false}},
    "y2": {"datum": 0},
    "color": {"field": "c", "type": "nominal", "scale": {"domain": ["a","b","c","d","e"], "range": ["#ff0000","#ffa500","#00ff80","#7300e6","#990077"]}, "legend": null},
    "stroke": {"field": "c", "type": "nominal", "scale": {"domain": ["a","b","c","d","e"], "range": ["#ff0000","#ffa500","#00ff80","#7300e6","#990077"]}, "legend": null}
   }},
  {"data": {"name": "bp"},
   "encoding": {
    "x": {"field": "x", "type": "quantitative", "scale": {"domain": [-1.46, 305.4], "nice": false, "zero": false}, "axis": null},
    "y": {"field": "v", "type": "quantitative", "scale": {"domain": [5.8, 95.85], "nice": false, "zero": false}, "axis": {"orient": "left", "values": [20,40,60,80], "grid": true}},
    "color": {"field": "c", "type": "nominal", "scale": {"domain": ["a","b","c","d","e"], "range": ["#ff0000","#ffa500","#00ff80","#7300e6","#990077"]}, "legend": null}
   },
   "layer": [
    {"mark": {"type": "line", "strokeWidth": 1.5}},
    {"mark": {"type": "circle", "size": 110, "stroke": "black", "strokeWidth": 1, "opacity": 1}}
   ]},
  {"data": {"values": [{"t": "Benzene"}]},
   "mark": {"type": "text", "font": "Lato", "fontSize": 43, "align": "center", "baseline": "alphabetic", "color": "black"},
   "encoding": {
    "text": {"field": "t"},
    "x": {"datum": 226.2, "type": "quantitative", "scale": {"domain": [-1.46, 305.4], "nice": false, "zero": false}, "axis": null},
    "y": {"datum": 55.9, "type": "quantitative", "scale": {"domain": [5.8, 95.85], "nice": false, "zero": false}, "axis": null}
   }}
 ],
 "resolve": {"scale": {"y": "independent"}, "axis": {"x": "independent", "y": "independent"}}
},
{
 "width": 1676, "height": 306,
 "layer": [
  {"data": {"name": "ib"}, "mark": {"type": "bar", "binSpacing": 0, "strokeWidth": 0.8},
   "encoding": {
    "x": {"field": "x", "type": "quantitative", "bin": {"step": 1, "extent": [0, 306]}, "scale": {"domain": [-1.63, 305.4], "nice": false, "zero": false}, "axis": {"orient": "bottom", "values": [0,50,100,150,200,250,300], "labels": true, "labelPadding": 12, "grid": true, "title": " ", "titleFontSize": 13, "titlePadding": 1}},
    "y": {"field": "v", "type": "quantitative", "scale": {"domain": [-2.15, 92.4], "nice": false, "zero": false}, "axis": {"orient": "right", "values": [0,20,40,60,80], "grid": false}},
    "y2": {"datum": 0},
    "color": {"field": "c", "type": "nominal", "scale": {"domain": ["a","b","c","d","e"], "range": ["#ff0000","#ffa500","#00ff80","#7300e6","#990077"]}, "legend": null},
    "stroke": {"field": "c", "type": "nominal", "scale": {"domain": ["a","b","c","d","e"], "range": ["#ff0000","#ffa500","#00ff80","#7300e6","#990077"]}, "legend": null}
   }},
  {"data": {"name": "ip"},
   "encoding": {
    "x": {"field": "x", "type": "quantitative", "scale": {"domain": [-1.63, 305.4], "nice": false, "zero": false}, "axis": {"orient": "top", "values": [0,50,100,150,200,250,300], "ticks": false, "tickSize": 0, "labelPadding": -17, "grid": false, "labels": true}},
    "y": {"field": "v", "type": "quantitative", "scale": {"domain": [-2.15, 92.4], "nice": false, "zero": false}, "axis": {"orient": "left", "values": [0,20,40,60,80], "grid": true}},
    "color": {"field": "c", "type": "nominal", "scale": {"domain": ["a","b","c","d","e"], "range": ["#ff0000","#ffa500","#00ff80","#7300e6","#990077"]}, "legend": null}
   },
   "layer": [
    {"mark": {"type": "line", "strokeWidth": 1.5}},
    {"mark": {"type": "circle", "size": 110, "stroke": "black", "strokeWidth": 1, "opacity": 1}}
   ]},
  {"data": {"values": [{"t": "Isobutane"}]},
   "mark": {"type": "text", "font": "Lato", "fontSize": 43, "align": "center", "baseline": "alphabetic", "color": "black"},
   "encoding": {
    "text": {"field": "t"},
    "x": {"datum": 229.2, "type": "quantitative", "scale": {"domain": [-1.63, 305.4], "nice": false, "zero": false}, "axis": null},
    "y": {"datum": 49.6, "type": "quantitative", "scale": {"domain": [-2.15, 92.4], "nice": false, "zero": false}, "axis": null}
   }}
 ],
 "resolve": {"scale": {"y": "independent"}, "axis": {"x": "independent", "y": "independent"}}
},
{
 "width": 1682, "height": 306,
 "layer": [
  {"data": {"name": "db"}, "mark": {"type": "bar", "binSpacing": 0, "strokeWidth": 0.8},
   "encoding": {
    "x": {"field": "x", "type": "quantitative", "bin": {"step": 1, "extent": [0, 306]}, "scale": {"domain": [-0.85, 305.5], "nice": false, "zero": false}, "axis": {"orient": "bottom", "values": [0,50,100,150,200,250,300], "labels": true, "labelPadding": 10, "grid": true}},
    "y": {"field": "v", "type": "quantitative", "scale": {"domain": [18.4, 81.65], "nice": false, "zero": false}, "axis": {"orient": "right", "values": [20,30,40,50,60,70,80], "grid": false}},
    "y2": {"datum": 20},
    "color": {"field": "c", "type": "nominal", "scale": {"domain": ["a","b","c","d","e"], "range": ["#ff0000","#ffa500","#00ff80","#7300e6","#990077"]}, "legend": null},
    "stroke": {"field": "c", "type": "nominal", "scale": {"domain": ["a","b","c","d","e"], "range": ["#ff0000","#ffa500","#00ff80","#7300e6","#990077"]}, "legend": null}
   }},
  {"data": {"name": "dp"},
   "encoding": {
    "x": {"field": "x", "type": "quantitative", "scale": {"domain": [-0.85, 305.5], "nice": false, "zero": false}, "axis": null},
    "y": {"field": "v", "type": "quantitative", "scale": {"domain": [18.4, 81.65], "nice": false, "zero": false}, "axis": {"orient": "left", "values": [20,30,40,50,60,70,80], "grid": true}},
    "color": {"field": "c", "type": "nominal", "scale": {"domain": ["a","b","c","d","e"], "range": ["#ff0000","#ffa500","#00ff80","#7300e6","#990077"]}, "legend": null}
   },
   "layer": [
    {"mark": {"type": "line", "strokeWidth": 1.5}},
    {"mark": {"type": "circle", "size": 110, "stroke": "black", "strokeWidth": 1, "opacity": 1}}
   ]},
  {"data": {"values": [{"t": "Dichloromethane"}]},
   "mark": {"type": "text", "font": "Lato", "fontSize": 43, "align": "center", "baseline": "alphabetic", "color": "black"},
   "encoding": {
    "text": {"field": "t"},
    "x": {"datum": 244.6, "type": "quantitative", "scale": {"domain": [-0.85, 305.5], "nice": false, "zero": false}, "axis": null},
    "y": {"datum": 64.75, "type": "quantitative", "scale": {"domain": [18.4, 81.65], "nice": false, "zero": false}, "axis": null}
   }}
 ],
 "resolve": {"scale": {"y": "independent"}, "axis": {"x": "independent", "y": "independent"}}
}
]
}
